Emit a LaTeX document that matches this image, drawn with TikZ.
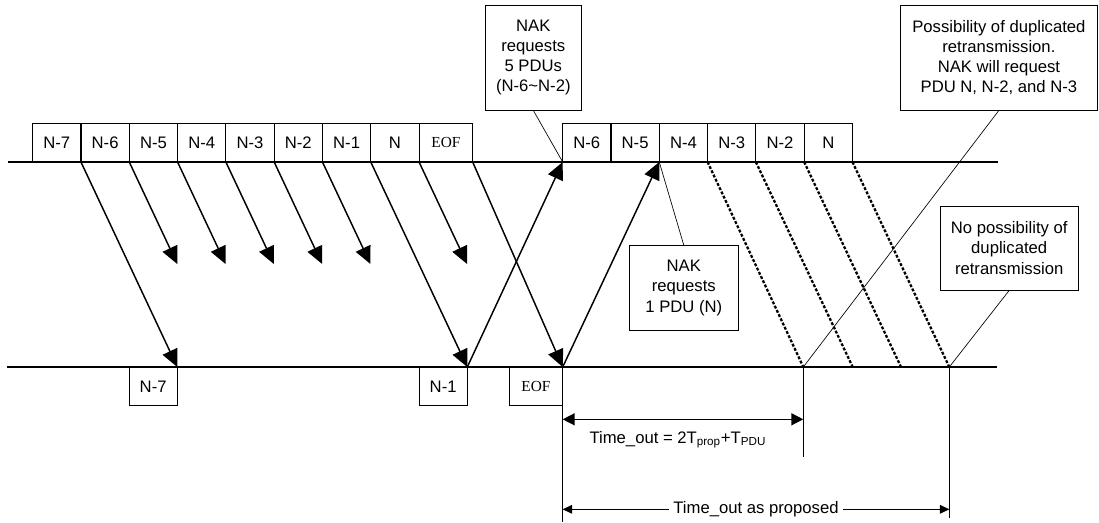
\documentclass[tikz,border=0pt]{standalone}
\usepackage{fontspec}
\setmainfont{Liberation Sans}
\newfontfamily\eoffont{Liberation Serif}
\usetikzlibrary{arrows.meta, calc}

\begin{document}
\begin{tikzpicture}[x=0.75pt, y=-0.75pt,
    pdu/.style={draw, line width=0.8pt, minimum width=36.2pt, minimum height=29pt, inner sep=0pt, outer sep=0pt, font=\fontsize{12.5}{14}\selectfont},
    eofbox/.style={pdu, minimum width=40.2pt, font=\eoffont\fontsize{11.5}{13}\selectfont},
    sent/.style={line width=1.1pt, -{Triangle[length=13pt, width=12pt]}},
    resent/.style={line width=1.7pt, dash pattern=on 2.2pt off 1.3pt},
    nakbox/.style={draw, line width=0.6pt, align=center, inner sep=0pt, font=\fontsize{12.5}{15.2}\selectfont},
    leadline/.style={line width=0.5pt},
    timeline/.style={line width=1.1pt}]
    \useasboundingbox (0,0) rectangle (1099,522);
    % Sender and receiver lines
    \coordinate (tx0) at (8,162);
    \coordinate (tx1) at (998,162);
    \coordinate (rx0) at (7,367);
    \coordinate (rx1) at (997,367);
    \draw[timeline] (tx0) -- (tx1);
    \draw[timeline] (rx0) -- (rx1);

    % First transmission
    \foreach \lbl [count=\i] in {N-7,N-6,N-5,N-4,N-3,N-2,N-1,N}
    {
        \node[pdu, anchor=south west] (s\i) at ({32.7+48.3*(\i-1)}, 162) {\lbl};
    }
    \node[eofbox, anchor=south west] (s9) at (s8.south east) {EOF};

    % Retransmission
    \foreach \lbl [count=\i] in {N-6,N-5,N-4,N-3,N-2,N}
    {
        \node[pdu, anchor=south west] (r\i) at ({562.7+48.3*(\i-1)}, 162) {\lbl};
    }

    % Received PDUs
    \node[pdu, anchor=north east] (b1) at (177.3,367) {N-7};
    \node[pdu, anchor=north east] (b7) at (467.3,367) {N-1};
    \node[eofbox, anchor=north east] (b9) at (562.7,367) {EOF};

    % Delivered PDUs
    \draw[sent] (s1.south east) -- (b1.north east);
    \draw[sent] (s7.south east) -- (b7.north east);
    \draw[sent] (s9.south east) -- (b9.north east);
    % Lost PDUs
    \foreach \i in {2,3,4,5,6,8}
    {
        \draw[sent] (s\i.south east) -- ++(48,102) coordinate (l\i);
    }
    % NAKs
    \draw[sent] (b7.north east) -- (r1.south west);
    \draw[sent] (b9.north east) -- (r2.south east);
    % Retransmitted PDUs
    \foreach \i/\x in {3/803.3, 4/852.7, 5/901, 6/949.3}
    {
        \draw[resent] (r\i.south east) -- (\x,367) coordinate (e\i);
    }

    % Time out marks
    \draw[timeline] (b9.north east) -- ++(0,155);
    \draw[timeline] (e3) -- ++(0,90);
    \draw[timeline] (e6) -- ++(0,151);
    \coordinate (to0) at (562.7,419.3);
    \coordinate (to1) at (803.3,419.3);
    \coordinate (tp0) at (562.7,509.3);
    \coordinate (tp1) at (949.3,509.3);
    \draw[timeline, {Triangle[length=9pt, width=9pt]}-{Triangle[length=9pt, width=9pt]}] (to0) -- (to1);
    \node[anchor=base west, inner sep=0pt, font=\fontsize{12.5}{15}\selectfont] (tolbl) at (589.3,443.3) {Time\_out = 2T\textsubscript{prop}+T\textsubscript{PDU}};
    \draw[line width=0.6pt, {Triangle[length=7pt, width=6.5pt]}-{Triangle[length=7pt, width=6.5pt]}] (tp0) -- (tp1)
        node[midway, fill=white, inner xsep=3pt, inner ysep=1pt, font=\fontsize{12.5}{15}\selectfont] (tplbl) {Time\_out as proposed};

    % Notes
    \node[nakbox, minimum width=72.5pt, minimum height=78.75pt] (c1) at (533.3,57.5) {NAK\\requests\\5 PDUs\\(N-6\textasciitilde N-2)};
    \node[nakbox, minimum width=81.75pt, minimum height=63.2pt] (c2) at (683.8,287.8) {NAK\\requests\\1 PDU (N)};
    \node[nakbox, minimum width=147.2pt, minimum height=78.75pt] (c3) at (998.9,57.5) {Possibility of duplicated\\retransmission.\\NAK will request\\PDU N, N-2, and N-3};
    \node[nakbox, minimum width=103.7pt, minimum height=63pt] (c4) at (1009.2,248) {No possibility of\\duplicated\\retransmission};
    \draw[leadline] (c1.south) -- (r1.south west);
    \draw[leadline] (c2.north) -- (r2.south east);
    \draw[leadline] (c3.south) -- (e3);
    \draw[leadline] (c4.south) -- (e6);
\end{tikzpicture}
\end{document}
